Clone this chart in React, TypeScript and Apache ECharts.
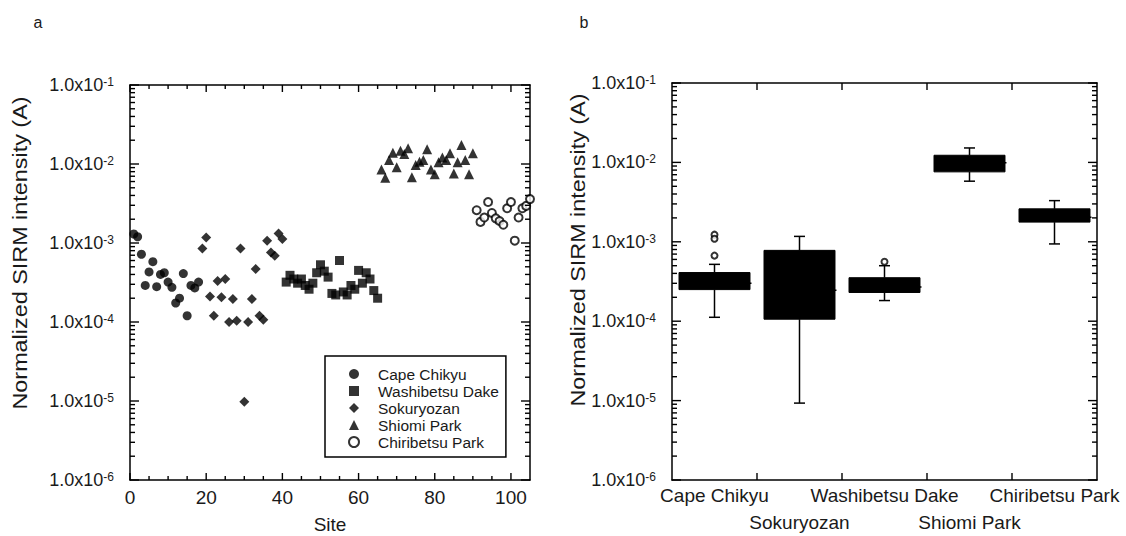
import React, { useEffect, useRef } from 'react';
import * as echarts from 'echarts';

// ---- Panel a: SIRM intensity per site ----
const capeSites = [1, 2, 3, 4, 5, 6, 7, 8, 9, 10, 11, 12, 13, 14, 15, 16, 17, 18];
const capeValues = [1.3e-3, 1.2e-3, 7.2e-4, 2.9e-4, 4.3e-4, 5.8e-4, 2.8e-4, 4.0e-4, 4.2e-4, 3.2e-4, 2.75e-4, 1.74e-4, 2.0e-4, 4.1e-4, 1.2e-4, 2.9e-4, 2.7e-4, 3.2e-4];

const washiSites = [41, 42, 43, 44, 45, 46, 47, 48, 49, 50, 51, 52, 53, 54, 55, 56, 57, 58, 59, 60, 61, 62, 63, 64, 65];
const washiValues = [3.2e-4, 3.9e-4, 3.5e-4, 3.1e-4, 3.5e-4, 2.9e-4, 2.6e-4, 3.1e-4, 4.2e-4, 5.3e-4, 4.4e-4, 3.7e-4, 2.3e-4, 2.2e-4, 6.0e-4, 2.4e-4, 2.2e-4, 2.9e-4, 2.6e-4, 4.5e-4, 3.1e-4, 4.2e-4, 3.5e-4, 2.5e-4, 2.0e-4];

const sokuSites = [19, 20, 21, 22, 23, 24, 25, 26, 27, 28, 29, 30, 31, 32, 33, 34, 35, 36, 37, 38, 39, 40];
const sokuValues = [8.5e-4, 1.17e-3, 2.1e-4, 1.2e-4, 3.3e-4, 2.05e-4, 3.5e-4, 1.0e-4, 1.95e-4, 1.04e-4, 8.5e-4, 9.8e-6, 1.0e-4, 1.95e-4, 4.7e-4, 1.2e-4, 1.07e-4, 1.07e-3, 7.6e-4, 6.9e-4, 1.32e-3, 1.12e-3];

const shiomiSites = [66, 67, 68, 69, 70, 71, 72, 73, 74, 75, 76, 77, 78, 79, 80, 81, 82, 83, 84, 85, 86, 87, 88, 89, 90];
const shiomiValues = [8.5e-3, 6.7e-3, 1.12e-2, 1.39e-2, 9.1e-3, 1.47e-2, 1.34e-2, 1.58e-2, 6.8e-3, 9.7e-3, 1.07e-2, 1.12e-2, 1.54e-2, 8.5e-3, 7.4e-3, 1.05e-2, 1.21e-2, 1.12e-2, 1.37e-2, 7.6e-3, 1.05e-2, 1.74e-2, 1.12e-2, 7.4e-3, 1.37e-2];

const chiriSites = [91, 92, 93, 94, 95, 96, 97, 98, 99, 100, 101, 102, 103, 104, 105];
const chiriValues = [2.6e-3, 1.85e-3, 2.1e-3, 3.3e-3, 2.4e-3, 2.05e-3, 1.9e-3, 1.7e-3, 2.75e-3, 3.3e-3, 1.07e-3, 2.1e-3, 2.75e-3, 2.95e-3, 3.6e-3];

const seriesNames = ['Cape Chikyu', 'Washibetsu Dake', 'Sokuryozan', 'Shiomi Park', 'Chiribetsu Park'];

// ---- Panel b: box plots ----
const boxCategories = ['Cape Chikyu', 'Sokuryozan', 'Washibetsu Dake', 'Shiomi Park', 'Chiribetsu Park'];
const boxWhiskerLow = [1.12e-4, 9.3e-6, 1.82e-4, 5.8e-3, 9.4e-4];
const boxQ1 = [2.5e-4, 1.06e-4, 2.3e-4, 7.6e-3, 1.77e-3];
const boxMedian = [3.0e-4, 2.45e-4, 2.7e-4, 9.9e-3, 2.04e-3];
const boxQ3 = [4.1e-4, 7.8e-4, 3.53e-4, 1.23e-2, 2.6e-3];
const boxWhiskerHigh = [5.2e-4, 1.17e-3, 5.0e-4, 1.52e-2, 3.3e-3];
const outlierCategory = [0, 0, 0, 2];
const outlierValues = [1.23e-3, 1.09e-3, 6.7e-4, 5.6e-4];

// ---- Axis ticks ----
const xTickValues = [0, 20, 40, 60, 80, 100];
const xMinorTickValues = [5, 10, 15, 25, 30, 35, 45, 50, 55, 65, 70, 75, 85, 90, 95];
const decadeExponents = [-6, -5, -4, -3, -2, -1];
const minorMultipliers = [2, 3, 4, 5, 6, 7, 8, 9];
const categoryBoundaries = [0.5, 1.5, 2.5, 3.5];

const FONT = '"Liberation Sans", Arial, sans-serif';
const TXT = '#1a1a1a';
const TICK = '#000';

export default function App() {
  const ref = useRef<HTMLDivElement>(null);
  useEffect(() => {
    if (!ref.current) return;
    const chart = echarts.init(ref.current, null, { renderer: 'svg' });

    const decadeValues = decadeExponents.map((e) => Math.pow(10, e));
    const minorValues: number[] = [];
    decadeExponents.slice(0, -1).forEach((e) => {
      minorMultipliers.forEach((m) => minorValues.push(m * Math.pow(10, e)));
    });

    const zip = (a: number[], b: number[]) => a.map((v, i) => [v, b[i]]);

    const yLabel = {
      formatter: (v: number) => {
        const e = Math.round(Math.log10(v));
        return `{a|1.0x10}{b|${e}}`;
      },
      margin: 16,
      rich: {
        a: { fontSize: 18, color: TXT, fontFamily: FONT },
        b: { fontSize: 12, color: TXT, fontFamily: FONT, verticalAlign: 'top' },
      },
    };
    const mkLine = () => ({ show: true, onZero: false, lineStyle: { color: '#000', width: 1.5 } });
    const logY = (grid: number, pos: 'left' | 'right', labels: boolean) => ({
      type: 'log',
      logBase: 10,
      gridIndex: grid,
      position: pos,
      min: 1e-6,
      max: 1e-1,
      axisLine: mkLine(),
      axisTick: { show: false },
      axisLabel: labels ? yLabel : { show: false },
      splitLine: { show: false },
    });
    const siteX = (pos: 'bottom' | 'top', labels: boolean) => ({
      type: 'value',
      gridIndex: 0,
      position: pos,
      min: 0,
      max: 105,
      interval: 20,
      axisLine: mkLine(),
      axisTick: { show: false },
      axisLabel: labels
        ? {
            show: true,
            showMaxLabel: false,
            margin: 7,
            fontSize: 19,
            lineHeight: 20,
            color: TXT,
            fontFamily: FONT,
            formatter: (v: number) => (xTickValues.indexOf(v) >= 0 ? String(v) : ''),
          }
        : { show: false },
      splitLine: { show: false },
    });
    const catX = (pos: 'bottom' | 'top', labels: boolean) => ({
      type: 'category',
      gridIndex: 1,
      position: pos,
      data: boxCategories,
      axisLine: mkLine(),
      axisTick: { show: false },
      axisLabel: labels
        ? {
            show: true,
            interval: 0,
            margin: 2,
            fontSize: 19,
            lineHeight: 27,
            color: TXT,
            fontFamily: FONT,
            formatter: (v: string, i: number) => (i % 2 === 1 ? '\n' + v : v),
          }
        : { show: false },
      splitLine: { show: false },
    });

    const hLine = (x1: number, x2: number, y: number) => ({ type: 'line', shape: { x1, y1: y, x2, y2: y }, style: { stroke: TICK, lineWidth: 1.4 } });
    const vLine = (x: number, y1: number, y2: number) => ({ type: 'line', shape: { x1: x, y1, x2: x, y2 }, style: { stroke: TICK, lineWidth: 1.4 } });

    // inward ticks on all four sides, placed through each panel's own scales
    const tickSeries = (name: string, xIdx: number, yIdx: number, rows: number[][], bandShift: boolean) => ({
      name,
      type: 'custom',
      xAxisIndex: xIdx,
      yAxisIndex: yIdx,
      clip: false,
      z: 5,
      silent: true,
      encode: { x: 0, y: 1 },
      data: rows,
      renderItem: (params: any, api: any) => {
        const cs = params.coordSys;
        const p = api.coord([api.value(0), api.value(1)]);
        const kind = api.value(2);
        const len = api.value(3);
        if (kind === 0) {
          return { type: 'group', children: [hLine(cs.x, cs.x + len, p[1]), hLine(cs.x + cs.width, cs.x + cs.width - len, p[1])] };
        }
        const x = bandShift ? p[0] - cs.width / boxCategories.length / 2 : p[0];
        const yb = cs.y + cs.height;
        return { type: 'group', children: [vLine(x, yb, yb - len), vLine(x, cs.y, cs.y + len)] };
      },
    });
    const ticksA = [
      ...decadeValues.map((v) => [50, v, 0, 9]),
      ...minorValues.map((v) => [50, v, 0, 5]),
      ...xTickValues.map((v) => [v, 1e-3, 1, 7]),
      ...xMinorTickValues.map((v) => [v, 1e-3, 1, 4]),
    ];
    const ticksB = [
      ...decadeValues.map((v) => [2, v, 0, 9]),
      ...minorValues.map((v) => [2, v, 0, 5]),
      ...categoryBoundaries.map((v) => [v + 0.5, 1e-3, 1, 7]),
    ];

    const option: any = {
      animation: false,
      textStyle: { fontFamily: FONT },
      grid: [
        { left: 130, top: 85, width: 400, height: 395 },
        { left: 672, top: 83, width: 425, height: 400 },
      ],
      xAxis: [siteX('bottom', true), siteX('top', false), catX('bottom', true), catX('top', false)],
      yAxis: [logY(0, 'left', true), logY(0, 'right', false), logY(1, 'left', true), logY(1, 'right', false)],
      legend: {
        orient: 'vertical',
        left: 325,
        top: 356,
        padding: [10, 7, 7, 23],
        itemGap: 1,
        itemWidth: 10,
        itemHeight: 10,
        borderColor: '#000',
        borderWidth: 1.5,
        selectedMode: false,
        textStyle: { fontSize: 15.5, lineHeight: 16, color: TXT, fontFamily: FONT, padding: [0, 0, 0, 14] },
        data: seriesNames,
      },
      graphic: [
        { type: 'text', x: 38, y: 22, style: { text: 'a', fontSize: 16, fontFamily: FONT, fill: TXT, align: 'center', verticalAlign: 'middle', textAlign: 'center', textVerticalAlign: 'middle' } },
        { type: 'text', x: 584, y: 22, style: { text: 'b', fontSize: 16, fontFamily: FONT, fill: TXT, align: 'center', verticalAlign: 'middle', textAlign: 'center', textVerticalAlign: 'middle' } },
        { type: 'text', x: 330, y: 524, style: { text: 'Site', fontSize: 19, fontFamily: FONT, fill: TXT, align: 'center', verticalAlign: 'middle', textAlign: 'center', textVerticalAlign: 'middle' } },
        { type: 'text', x: 21, y: 253, rotation: Math.PI / 2, scaleX: 1.2, style: { text: 'Normalized SIRM intensity (A)', fontSize: 19.5, fontFamily: FONT, fill: TXT, align: 'center', verticalAlign: 'middle', textAlign: 'center', textVerticalAlign: 'middle' } },
        { type: 'text', x: 579, y: 250, rotation: Math.PI / 2, scaleX: 1.2, style: { text: 'Normalized SIRM intensity (A)', fontSize: 19.5, fontFamily: FONT, fill: TXT, align: 'center', verticalAlign: 'middle', textAlign: 'center', textVerticalAlign: 'middle' } },
      ],
      series: [
        { name: 'Cape Chikyu', type: 'scatter', xAxisIndex: 0, yAxisIndex: 0, symbol: 'circle', symbolSize: 9, itemStyle: { color: '#000' }, data: zip(capeSites, capeValues) },
        { name: 'Washibetsu Dake', type: 'scatter', xAxisIndex: 0, yAxisIndex: 0, symbol: 'rect', symbolSize: 9, itemStyle: { color: '#000' }, data: zip(washiSites, washiValues) },
        { name: 'Sokuryozan', type: 'scatter', xAxisIndex: 0, yAxisIndex: 0, symbol: 'diamond', symbolSize: 10, itemStyle: { color: '#000' }, data: zip(sokuSites, sokuValues) },
        { name: 'Shiomi Park', type: 'scatter', xAxisIndex: 0, yAxisIndex: 0, symbol: 'triangle', symbolSize: 10, itemStyle: { color: '#000' }, data: zip(shiomiSites, shiomiValues) },
        { name: 'Chiribetsu Park', type: 'scatter', xAxisIndex: 0, yAxisIndex: 0, symbol: 'emptyCircle', symbolSize: 8, itemStyle: { color: '#000', borderColor: '#000', borderWidth: 2 }, data: zip(chiriSites, chiriValues) },
        {
          type: 'custom',
          xAxisIndex: 2,
          yAxisIndex: 2,
          silent: true,
          encode: { x: 0, y: [1, 2, 3, 4, 5] },
          data: boxCategories.map((_, i) => [i, boxWhiskerLow[i], boxQ1[i], boxMedian[i], boxQ3[i], boxWhiskerHigh[i]]),
          renderItem: (params: any, api: any) => {
            const cs = params.coordSys;
            const idx = api.value(0);
            const band = cs.width / boxCategories.length;
            const bw = band * 0.835;
            const cx = api.coord([idx, api.value(3)])[0];
            const yLow = api.coord([idx, api.value(1)])[1];
            const yQ1 = api.coord([idx, api.value(2)])[1];
            const yMed = api.coord([idx, api.value(3)])[1];
            const yQ3 = api.coord([idx, api.value(4)])[1];
            const yHigh = api.coord([idx, api.value(5)])[1];
            const ln = { stroke: '#000', lineWidth: 1.5 };
            const cap = 5.5;
            return {
              type: 'group',
              children: [
                { type: 'line', shape: { x1: cx, y1: yLow, x2: cx, y2: yQ1 }, style: ln },
                { type: 'line', shape: { x1: cx, y1: yQ3, x2: cx, y2: yHigh }, style: ln },
                { type: 'line', shape: { x1: cx - cap, y1: yLow, x2: cx + cap, y2: yLow }, style: ln },
                { type: 'line', shape: { x1: cx - cap, y1: yHigh, x2: cx + cap, y2: yHigh }, style: ln },
                { type: 'rect', shape: { x: cx - bw / 2, y: yQ3, width: bw, height: yQ1 - yQ3 }, style: { fill: '#000', stroke: '#000', lineWidth: 1 } },
                { type: 'line', shape: { x1: cx - bw / 2, y1: yMed, x2: cx + bw / 2 + 1.5, y2: yMed }, style: ln },
              ],
            };
          },
        },
        {
          type: 'scatter',
          xAxisIndex: 2,
          yAxisIndex: 2,
          symbol: 'emptyCircle',
          symbolSize: 6,
          itemStyle: { color: '#000', borderColor: '#000', borderWidth: 1.8 },
          data: outlierCategory.map((c, i) => [c, outlierValues[i]]),
        },
        tickSeries('ticksA', 0, 0, ticksA, false),
        tickSeries('ticksB', 2, 2, ticksB, true),
      ],
    };
    chart.setOption(option);
    return () => chart.dispose();
  }, []);
  return <div ref={ref} style={{ position: 'absolute', left: 0, top: 0, width: 1126, height: 536, background: '#fff' }} />;
}
